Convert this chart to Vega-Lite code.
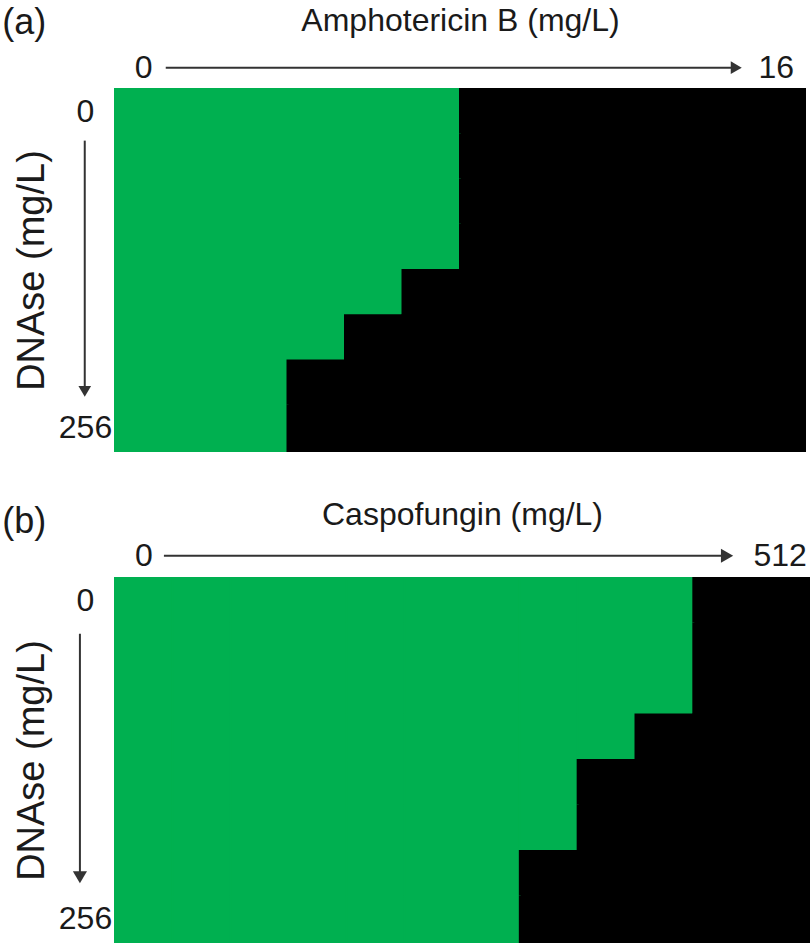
{
  "$schema": "https://vega.github.io/schema/vega-lite/v6.json",
  "background": "white",
  "padding": {"left": 2, "top": 4, "right": 0, "bottom": 0},
  "spacing": 46,
  "config": {
    "font": "Liberation Sans",
    "view": {"stroke": null},
    "axis": {"domain": false, "ticks": false, "grid": false, "labelFontSize": 32, "titleFontSize": 32, "titleFontWeight": "normal", "labelColor": "#1a1a1a", "titleColor": "#1a1a1a", "labelOverlap": false, "labelFont": "Liberation Sans", "titleFont": "Liberation Sans"},
    "title": {"fontSize": 36, "fontWeight": "normal", "anchor": "start", "frame": "bounds", "color": "#1a1a1a", "font": "Liberation Sans"}
  },
  "vconcat": [
    {
      "title": {"text": "(a)", "offset": -38, "dx": -11},
      "width": 690,
      "height": 362,
      "layer": [
        {
          "data": {"values": [
            {"dnase": 0, "drug": 0, "growth": "yes"}, {"dnase": 0, "drug": 0.016, "growth": "yes"}, {"dnase": 0, "drug": 0.031, "growth": "yes"}, {"dnase": 0, "drug": 0.063, "growth": "yes"}, {"dnase": 0, "drug": 0.125, "growth": "yes"}, {"dnase": 0, "drug": 0.25, "growth": "yes"}, {"dnase": 0, "drug": 0.5, "growth": "no"}, {"dnase": 0, "drug": 1, "growth": "no"}, {"dnase": 0, "drug": 2, "growth": "no"}, {"dnase": 0, "drug": 4, "growth": "no"}, {"dnase": 0, "drug": 8, "growth": "no"}, {"dnase": 0, "drug": 16, "growth": "no"},
            {"dnase": 4, "drug": 0, "growth": "yes"}, {"dnase": 4, "drug": 0.016, "growth": "yes"}, {"dnase": 4, "drug": 0.031, "growth": "yes"}, {"dnase": 4, "drug": 0.063, "growth": "yes"}, {"dnase": 4, "drug": 0.125, "growth": "yes"}, {"dnase": 4, "drug": 0.25, "growth": "yes"}, {"dnase": 4, "drug": 0.5, "growth": "no"}, {"dnase": 4, "drug": 1, "growth": "no"}, {"dnase": 4, "drug": 2, "growth": "no"}, {"dnase": 4, "drug": 4, "growth": "no"}, {"dnase": 4, "drug": 8, "growth": "no"}, {"dnase": 4, "drug": 16, "growth": "no"},
            {"dnase": 8, "drug": 0, "growth": "yes"}, {"dnase": 8, "drug": 0.016, "growth": "yes"}, {"dnase": 8, "drug": 0.031, "growth": "yes"}, {"dnase": 8, "drug": 0.063, "growth": "yes"}, {"dnase": 8, "drug": 0.125, "growth": "yes"}, {"dnase": 8, "drug": 0.25, "growth": "yes"}, {"dnase": 8, "drug": 0.5, "growth": "no"}, {"dnase": 8, "drug": 1, "growth": "no"}, {"dnase": 8, "drug": 2, "growth": "no"}, {"dnase": 8, "drug": 4, "growth": "no"}, {"dnase": 8, "drug": 8, "growth": "no"}, {"dnase": 8, "drug": 16, "growth": "no"},
            {"dnase": 16, "drug": 0, "growth": "yes"}, {"dnase": 16, "drug": 0.016, "growth": "yes"}, {"dnase": 16, "drug": 0.031, "growth": "yes"}, {"dnase": 16, "drug": 0.063, "growth": "yes"}, {"dnase": 16, "drug": 0.125, "growth": "yes"}, {"dnase": 16, "drug": 0.25, "growth": "yes"}, {"dnase": 16, "drug": 0.5, "growth": "no"}, {"dnase": 16, "drug": 1, "growth": "no"}, {"dnase": 16, "drug": 2, "growth": "no"}, {"dnase": 16, "drug": 4, "growth": "no"}, {"dnase": 16, "drug": 8, "growth": "no"}, {"dnase": 16, "drug": 16, "growth": "no"},
            {"dnase": 32, "drug": 0, "growth": "yes"}, {"dnase": 32, "drug": 0.016, "growth": "yes"}, {"dnase": 32, "drug": 0.031, "growth": "yes"}, {"dnase": 32, "drug": 0.063, "growth": "yes"}, {"dnase": 32, "drug": 0.125, "growth": "yes"}, {"dnase": 32, "drug": 0.25, "growth": "no"}, {"dnase": 32, "drug": 0.5, "growth": "no"}, {"dnase": 32, "drug": 1, "growth": "no"}, {"dnase": 32, "drug": 2, "growth": "no"}, {"dnase": 32, "drug": 4, "growth": "no"}, {"dnase": 32, "drug": 8, "growth": "no"}, {"dnase": 32, "drug": 16, "growth": "no"},
            {"dnase": 64, "drug": 0, "growth": "yes"}, {"dnase": 64, "drug": 0.016, "growth": "yes"}, {"dnase": 64, "drug": 0.031, "growth": "yes"}, {"dnase": 64, "drug": 0.063, "growth": "yes"}, {"dnase": 64, "drug": 0.125, "growth": "no"}, {"dnase": 64, "drug": 0.25, "growth": "no"}, {"dnase": 64, "drug": 0.5, "growth": "no"}, {"dnase": 64, "drug": 1, "growth": "no"}, {"dnase": 64, "drug": 2, "growth": "no"}, {"dnase": 64, "drug": 4, "growth": "no"}, {"dnase": 64, "drug": 8, "growth": "no"}, {"dnase": 64, "drug": 16, "growth": "no"},
            {"dnase": 128, "drug": 0, "growth": "yes"}, {"dnase": 128, "drug": 0.016, "growth": "yes"}, {"dnase": 128, "drug": 0.031, "growth": "yes"}, {"dnase": 128, "drug": 0.063, "growth": "no"}, {"dnase": 128, "drug": 0.125, "growth": "no"}, {"dnase": 128, "drug": 0.25, "growth": "no"}, {"dnase": 128, "drug": 0.5, "growth": "no"}, {"dnase": 128, "drug": 1, "growth": "no"}, {"dnase": 128, "drug": 2, "growth": "no"}, {"dnase": 128, "drug": 4, "growth": "no"}, {"dnase": 128, "drug": 8, "growth": "no"}, {"dnase": 128, "drug": 16, "growth": "no"},
            {"dnase": 256, "drug": 0, "growth": "yes"}, {"dnase": 256, "drug": 0.016, "growth": "yes"}, {"dnase": 256, "drug": 0.031, "growth": "yes"}, {"dnase": 256, "drug": 0.063, "growth": "no"}, {"dnase": 256, "drug": 0.125, "growth": "no"}, {"dnase": 256, "drug": 0.25, "growth": "no"}, {"dnase": 256, "drug": 0.5, "growth": "no"}, {"dnase": 256, "drug": 1, "growth": "no"}, {"dnase": 256, "drug": 2, "growth": "no"}, {"dnase": 256, "drug": 4, "growth": "no"}, {"dnase": 256, "drug": 8, "growth": "no"}, {"dnase": 256, "drug": 16, "growth": "no"}
          ]},
          "mark": {"type": "rect", "strokeWidth": 2},
          "encoding": {
            "x": {"field": "drug", "type": "ordinal", "scale": {"paddingInner": 0, "paddingOuter": 0},
              "axis": {"orient": "top", "title": "Amphotericin B (mg/L)", "labelAngle": 0, "labelPadding": 5, "titlePadding": 14,
                "labelExpr": "datum.value === 0 || datum.value === 16 ? datum.label : ''"}},
            "y": {"field": "dnase", "type": "ordinal", "scale": {"paddingInner": 0, "paddingOuter": 0},
              "axis": {"title": "DNAse (mg/L)", "titleFontSize": 38, "labelAlign": "center", "labelBaseline": "middle", "labelPadding": 30, "titlePadding": 7,
                "labelExpr": "datum.value === 0 || datum.value === 256 ? datum.label : ''"}},
            "color": {"field": "growth", "type": "nominal", "scale": {"domain": ["yes", "no"], "range": ["#00b050", "#000000"]}, "legend": null},
            "stroke": {"field": "growth", "type": "nominal", "scale": {"domain": ["yes", "no"], "range": ["#00b050", "#000000"]}, "legend": null}
          }
        },
        {
          "data": {"values": [{}]},
          "mark": {"type": "rule", "stroke": "#333333", "strokeWidth": 2, "xOffset": 22, "x2Offset": -42, "yOffset": -44},
          "encoding": {"x": {"datum": 0, "type": "ordinal"}, "x2": {"datum": 16}, "y": {"datum": 0, "type": "ordinal"}}
        },
        {
          "data": {"values": [{}]},
          "mark": {"type": "point", "shape": "triangle-right", "filled": true, "opacity": 1, "size": 160, "color": "#333333", "xOffset": -40, "yOffset": -44},
          "encoding": {"x": {"datum": 16, "type": "ordinal"}, "y": {"datum": 0, "type": "ordinal"}}
        },
        {
          "data": {"values": [{}]},
          "mark": {"type": "rule", "stroke": "#333333", "strokeWidth": 2, "xOffset": -59, "yOffset": 29, "y2Offset": -40},
          "encoding": {"x": {"datum": 0, "type": "ordinal"}, "y": {"datum": 0, "type": "ordinal"}, "y2": {"datum": 256}}
        },
        {
          "data": {"values": [{}]},
          "mark": {"type": "point", "shape": "triangle-down", "filled": true, "opacity": 1, "size": 160, "color": "#333333", "xOffset": -59, "yOffset": -37},
          "encoding": {"x": {"datum": 0, "type": "ordinal"}, "y": {"datum": 256, "type": "ordinal"}}
        }
      ]
    },
    {
      "title": {"text": "(b)", "offset": -43, "dx": -11},
      "width": 694,
      "height": 364,
      "layer": [
        {
          "data": {"values": [
            {"dnase": 0, "drug": 0, "growth": "yes"}, {"dnase": 0, "drug": 0.5, "growth": "yes"}, {"dnase": 0, "drug": 1, "growth": "yes"}, {"dnase": 0, "drug": 2, "growth": "yes"}, {"dnase": 0, "drug": 4, "growth": "yes"}, {"dnase": 0, "drug": 8, "growth": "yes"}, {"dnase": 0, "drug": 16, "growth": "yes"}, {"dnase": 0, "drug": 32, "growth": "yes"}, {"dnase": 0, "drug": 64, "growth": "yes"}, {"dnase": 0, "drug": 128, "growth": "yes"}, {"dnase": 0, "drug": 256, "growth": "no"}, {"dnase": 0, "drug": 512, "growth": "no"},
            {"dnase": 4, "drug": 0, "growth": "yes"}, {"dnase": 4, "drug": 0.5, "growth": "yes"}, {"dnase": 4, "drug": 1, "growth": "yes"}, {"dnase": 4, "drug": 2, "growth": "yes"}, {"dnase": 4, "drug": 4, "growth": "yes"}, {"dnase": 4, "drug": 8, "growth": "yes"}, {"dnase": 4, "drug": 16, "growth": "yes"}, {"dnase": 4, "drug": 32, "growth": "yes"}, {"dnase": 4, "drug": 64, "growth": "yes"}, {"dnase": 4, "drug": 128, "growth": "yes"}, {"dnase": 4, "drug": 256, "growth": "no"}, {"dnase": 4, "drug": 512, "growth": "no"},
            {"dnase": 8, "drug": 0, "growth": "yes"}, {"dnase": 8, "drug": 0.5, "growth": "yes"}, {"dnase": 8, "drug": 1, "growth": "yes"}, {"dnase": 8, "drug": 2, "growth": "yes"}, {"dnase": 8, "drug": 4, "growth": "yes"}, {"dnase": 8, "drug": 8, "growth": "yes"}, {"dnase": 8, "drug": 16, "growth": "yes"}, {"dnase": 8, "drug": 32, "growth": "yes"}, {"dnase": 8, "drug": 64, "growth": "yes"}, {"dnase": 8, "drug": 128, "growth": "yes"}, {"dnase": 8, "drug": 256, "growth": "no"}, {"dnase": 8, "drug": 512, "growth": "no"},
            {"dnase": 16, "drug": 0, "growth": "yes"}, {"dnase": 16, "drug": 0.5, "growth": "yes"}, {"dnase": 16, "drug": 1, "growth": "yes"}, {"dnase": 16, "drug": 2, "growth": "yes"}, {"dnase": 16, "drug": 4, "growth": "yes"}, {"dnase": 16, "drug": 8, "growth": "yes"}, {"dnase": 16, "drug": 16, "growth": "yes"}, {"dnase": 16, "drug": 32, "growth": "yes"}, {"dnase": 16, "drug": 64, "growth": "yes"}, {"dnase": 16, "drug": 128, "growth": "no"}, {"dnase": 16, "drug": 256, "growth": "no"}, {"dnase": 16, "drug": 512, "growth": "no"},
            {"dnase": 32, "drug": 0, "growth": "yes"}, {"dnase": 32, "drug": 0.5, "growth": "yes"}, {"dnase": 32, "drug": 1, "growth": "yes"}, {"dnase": 32, "drug": 2, "growth": "yes"}, {"dnase": 32, "drug": 4, "growth": "yes"}, {"dnase": 32, "drug": 8, "growth": "yes"}, {"dnase": 32, "drug": 16, "growth": "yes"}, {"dnase": 32, "drug": 32, "growth": "yes"}, {"dnase": 32, "drug": 64, "growth": "no"}, {"dnase": 32, "drug": 128, "growth": "no"}, {"dnase": 32, "drug": 256, "growth": "no"}, {"dnase": 32, "drug": 512, "growth": "no"},
            {"dnase": 64, "drug": 0, "growth": "yes"}, {"dnase": 64, "drug": 0.5, "growth": "yes"}, {"dnase": 64, "drug": 1, "growth": "yes"}, {"dnase": 64, "drug": 2, "growth": "yes"}, {"dnase": 64, "drug": 4, "growth": "yes"}, {"dnase": 64, "drug": 8, "growth": "yes"}, {"dnase": 64, "drug": 16, "growth": "yes"}, {"dnase": 64, "drug": 32, "growth": "yes"}, {"dnase": 64, "drug": 64, "growth": "no"}, {"dnase": 64, "drug": 128, "growth": "no"}, {"dnase": 64, "drug": 256, "growth": "no"}, {"dnase": 64, "drug": 512, "growth": "no"},
            {"dnase": 128, "drug": 0, "growth": "yes"}, {"dnase": 128, "drug": 0.5, "growth": "yes"}, {"dnase": 128, "drug": 1, "growth": "yes"}, {"dnase": 128, "drug": 2, "growth": "yes"}, {"dnase": 128, "drug": 4, "growth": "yes"}, {"dnase": 128, "drug": 8, "growth": "yes"}, {"dnase": 128, "drug": 16, "growth": "yes"}, {"dnase": 128, "drug": 32, "growth": "no"}, {"dnase": 128, "drug": 64, "growth": "no"}, {"dnase": 128, "drug": 128, "growth": "no"}, {"dnase": 128, "drug": 256, "growth": "no"}, {"dnase": 128, "drug": 512, "growth": "no"},
            {"dnase": 256, "drug": 0, "growth": "yes"}, {"dnase": 256, "drug": 0.5, "growth": "yes"}, {"dnase": 256, "drug": 1, "growth": "yes"}, {"dnase": 256, "drug": 2, "growth": "yes"}, {"dnase": 256, "drug": 4, "growth": "yes"}, {"dnase": 256, "drug": 8, "growth": "yes"}, {"dnase": 256, "drug": 16, "growth": "yes"}, {"dnase": 256, "drug": 32, "growth": "no"}, {"dnase": 256, "drug": 64, "growth": "no"}, {"dnase": 256, "drug": 128, "growth": "no"}, {"dnase": 256, "drug": 256, "growth": "no"}, {"dnase": 256, "drug": 512, "growth": "no"}
          ]},
          "mark": {"type": "rect", "strokeWidth": 2},
          "encoding": {
            "x": {"field": "drug", "type": "ordinal", "scale": {"paddingInner": 0, "paddingOuter": 0},
              "axis": {"orient": "top", "title": "Caspofungin (mg/L)", "labelAngle": 0, "labelPadding": 6, "titlePadding": 8,
                "labelExpr": "datum.value === 0 || datum.value === 512 ? datum.label : ''"}},
            "y": {"field": "dnase", "type": "ordinal", "scale": {"paddingInner": 0, "paddingOuter": 0},
              "axis": {"title": "DNAse (mg/L)", "titleFontSize": 38, "labelAlign": "center", "labelBaseline": "middle", "labelPadding": 30, "titlePadding": 7,
                "labelExpr": "datum.value === 0 || datum.value === 256 ? datum.label : ''"}},
            "color": {"field": "growth", "type": "nominal", "scale": {"domain": ["yes", "no"], "range": ["#00b050", "#000000"]}, "legend": null},
            "stroke": {"field": "growth", "type": "nominal", "scale": {"domain": ["yes", "no"], "range": ["#00b050", "#000000"]}, "legend": null}
          }
        },
        {
          "data": {"values": [{}]},
          "mark": {"type": "rule", "stroke": "#333333", "strokeWidth": 2, "xOffset": 20, "x2Offset": -56, "yOffset": -45},
          "encoding": {"x": {"datum": 0, "type": "ordinal"}, "x2": {"datum": 512}, "y": {"datum": 0, "type": "ordinal"}}
        },
        {
          "data": {"values": [{}]},
          "mark": {"type": "point", "shape": "triangle-right", "filled": true, "opacity": 1, "size": 200, "color": "#333333", "xOffset": -53, "yOffset": -45},
          "encoding": {"x": {"datum": 512, "type": "ordinal"}, "y": {"datum": 0, "type": "ordinal"}}
        },
        {
          "data": {"values": [{}]},
          "mark": {"type": "rule", "stroke": "#333333", "strokeWidth": 2, "xOffset": -64, "yOffset": 33, "y2Offset": -44},
          "encoding": {"x": {"datum": 0, "type": "ordinal"}, "y": {"datum": 0, "type": "ordinal"}, "y2": {"datum": 256}}
        },
        {
          "data": {"values": [{}]},
          "mark": {"type": "point", "shape": "triangle-down", "filled": true, "opacity": 1, "size": 200, "color": "#333333", "xOffset": -64, "yOffset": -42},
          "encoding": {"x": {"datum": 0, "type": "ordinal"}, "y": {"datum": 256, "type": "ordinal"}}
        }
      ]
    }
  ]
}
